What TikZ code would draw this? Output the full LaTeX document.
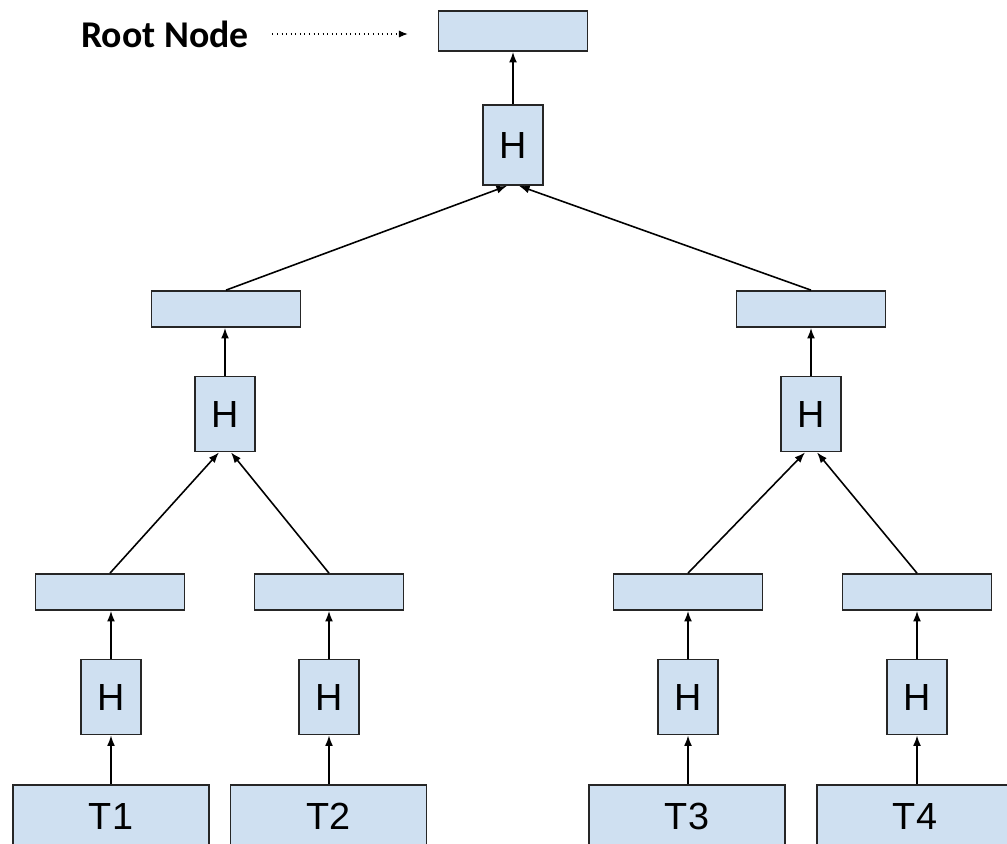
\documentclass[tikz,border=0pt]{standalone}
\usepackage{fontspec}
\setmainfont{Liberation Sans}
\newfontfamily\labelfont{Carlito}
\usetikzlibrary{calc,arrows.meta}
\definecolor{boxblue}{RGB}{207,224,241}
\tikzset{
	box/.style={draw=black!85, fill=boxblue, line width=1pt, inner sep=0pt},
	widebox/.style={box, minimum width=2.98cm, minimum height=0.72cm},
	hbox/.style={box, minimum width=1.2cm, minimum height=1.5cm, font=\fontsize{21.5}{22}\selectfont},
	tbox/.style={box, minimum width=3.92cm, minimum height=1.24cm, font=\fontsize{21.5}{22}\selectfont},
	link/.style={-{Latex[length=6pt,width=4.5pt]}, line width=0.9pt},
	dotlink/.style={dotted, -{Latex[length=5pt,width=4pt]}, line width=0.6pt}
}

\begin{document}
\begin{tikzpicture}[x=0.02cm, y=-0.02cm]
			%%%%% START %%%%%
			
			\clip (0,0) rectangle (1007,843);
			
			\node[font=\labelfont\bfseries\fontsize{21.5}{22}\selectfont] (rootlabel) at (165,34) {Root Node};
			\node[widebox, minimum height=0.8cm] (root) at (513,31) {};
			\node[hbox, minimum height=1.6cm] (h0) at (513,145) {H};
			
			\node[widebox] (left) at (226,309) {};
			\node[widebox] (right) at (811,309) {};
			\node[hbox] (hleft) at (225,414) {H};
			\node[hbox] (hright) at (811,414) {H};
			
			\node[widebox] (n1) at (110,592) {};
			\node[widebox] (n2) at (329,592) {};
			\node[widebox] (n3) at (688,592) {};
			\node[widebox] (n4) at (917,592) {};
			
			\node[hbox] (h1) at (111,697) {H};
			\node[hbox] (h2) at (329,697) {H};
			\node[hbox] (h3) at (688,697) {H};
			\node[hbox] (h4) at (917,697) {H};
			
			\node[tbox] (t1) at (111,816) {T1};
			\node[tbox] (t2) at (328.5,816) {T2};
			\node[tbox] (t3) at (687,816) {T3};
			\node[tbox] (t4) at (915,816) {T4};
			
			\draw[dotlink, shorten <=10pt, shorten >=17pt] (rootlabel.east) -- (rootlabel.east -| root.west);
			\draw[link] (h0.north) -- (h0.north |- root.south);
			\draw[link] (left.north) -- ($(h0.south)+(-6,0)$);
			\draw[link] (right.north) -- ($(h0.south)+(6,0)$);
			
			\draw[link] (hleft.north) -- (hleft.north |- left.south);
			\draw[link] (hright.north) -- (hright.north |- right.south);
			\draw[link] (n1.north) -- ($(hleft.south)+(-6,0)$);
			\draw[link] (n2.north) -- ($(hleft.south)+(6,0)$);
			\draw[link] (n3.north) -- ($(hright.south)+(-6,0)$);
			\draw[link] (n4.north) -- ($(hright.south)+(6,0)$);
			
			\draw[link] (h1.north) -- (h1.north |- n1.south);
			\draw[link] (h2.north) -- (h2.north |- n2.south);
			\draw[link] (h3.north) -- (h3.north |- n3.south);
			\draw[link] (h4.north) -- (h4.north |- n4.south);
			\draw[link] (t1.north -| h1) -- (h1);
			\draw[link] (t2.north -| h2) -- (h2);
			\draw[link] (t3.north -| h3) -- (h3);
			\draw[link] (t4.north -| h4) -- (h4);
			
			%%%%% END %%%%%
		\end{tikzpicture}
\end{document}
